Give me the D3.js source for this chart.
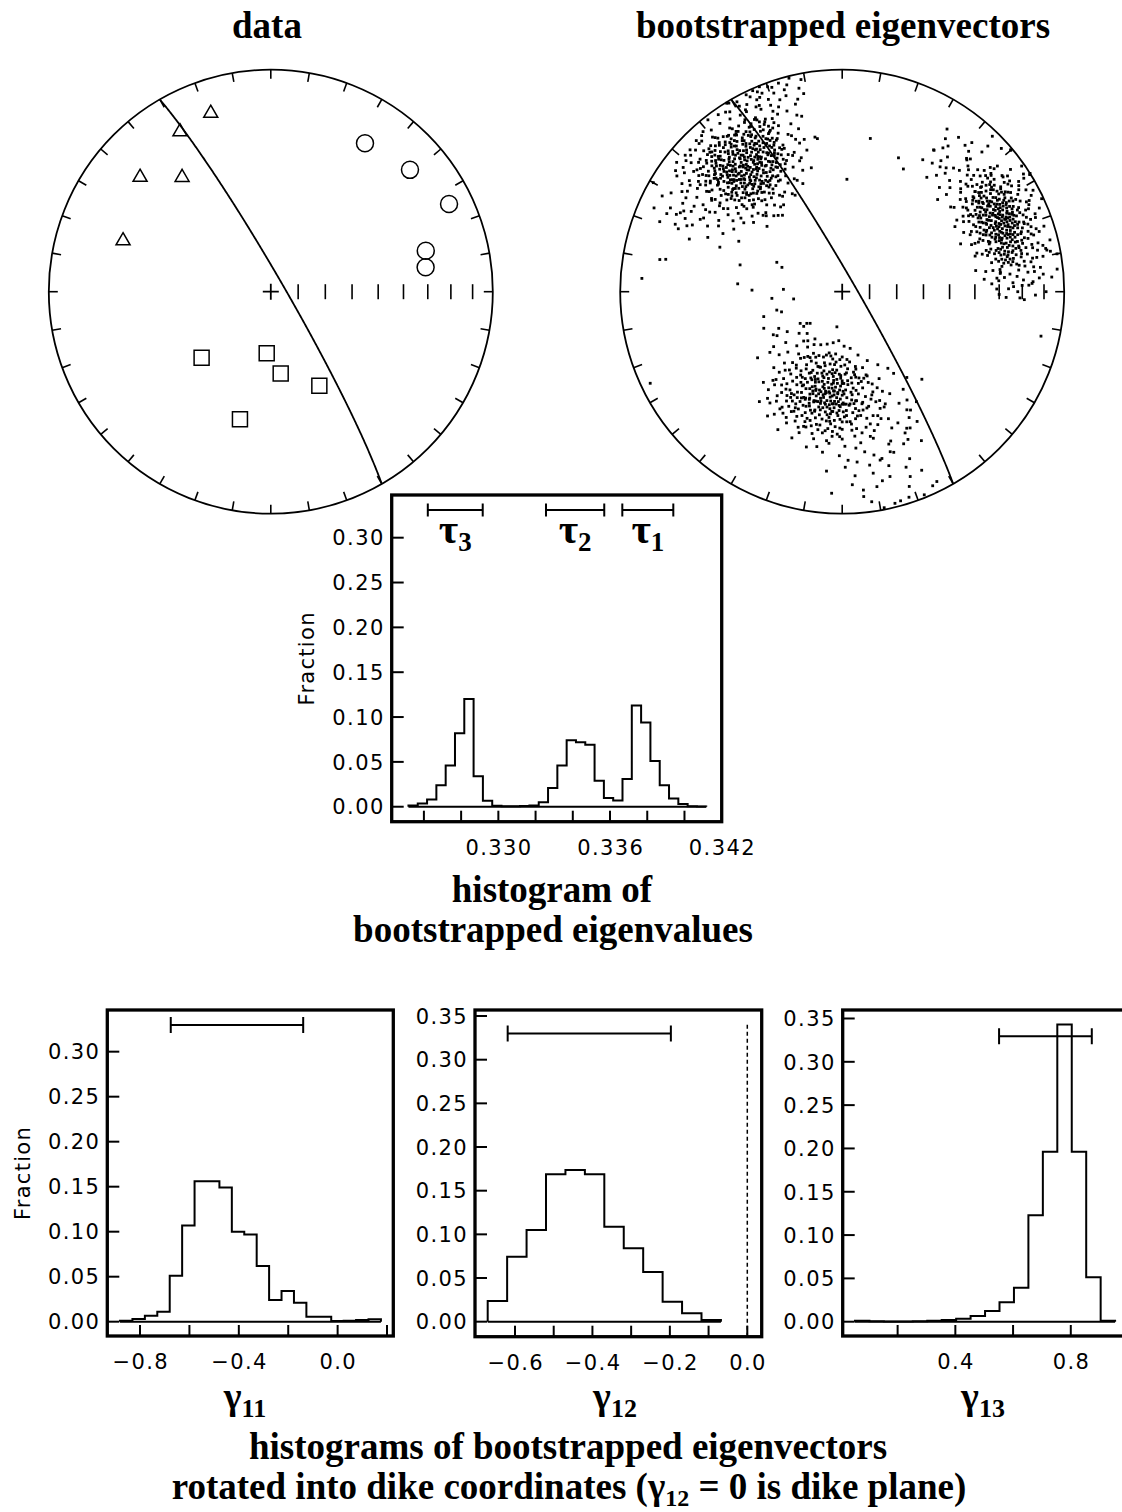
<!DOCTYPE html>
<html>
<head>
<meta charset="utf-8">
<title>Bootstrapped eigenvectors and eigenvalues</title>
<script src="https://cdn.jsdelivr.net/npm/d3@7/dist/d3.min.js"></script>
<style>
  html, body { margin: 0; padding: 0; background: #fff; }
  svg { display: block; }
  .title { font-family: "Liberation Serif", "Times New Roman", serif; font-weight: bold; fill: #000; }
  .tick-label { font-family: "DejaVu Sans", sans-serif; font-size: 21px; letter-spacing: 1.4px; fill: #000; }
</style>
</head>
<body>
<svg id="fig" width="1122" height="1512" viewBox="0 0 1122 1512"></svg>
<script>
// ---------------- data: measured directions (trend, plunge in degrees) ----------------
const dataTriangles = [[341.4,16.3],[330.4,18.3],[311.2,22.8],[322.2,35.1],[289.0,30.3]];
const dataCircles   = [[32.4,21.9],[48.8,17.8],[63.8,11.5],[75.2,28.6],[81.0,30.1]];
const dataSquares   = [[226.3,54.5],[183.8,67.3],[173.1,59.6],[152.7,50.6],[193.6,40.6]];

// dike plane, given by its pole (trend, plunge)
const dikePole = [240, 5];

// plunge graduations along the east radius
const plungeTicks = [80,70,60,50,40,30,20,10];

// bootstrapped eigenvector directions (trend, plunge)
const bootNW = [
[320,26],[321.5,29],[322,27],[323,30],[324,28],[320,30],[322.5,25.5],[323.5,27],[321,28],[324,26],[322,30],[320.5,28],[323,29],
[325,27],[326,29.5],[327,26],[328,28],[329,30],[325.5,30],[327,28.5],[328.5,26],[326,27],[329,27.5],[327.5,30],
[315,28],[316,26],[317,29],[318,27],[319,30],[315.5,30],[317,26.5],[318.5,28.5],[316,28],[319,26],[317.5,30],
[320,32],[321,34],[322,31],[323,33],[324,35],[320.5,35],[322,33.5],[323.5,31],[321,32],[324,32.5],[322.5,35],
[320,22],[321,24],[322,21],[323,23],[324,25],[320,24.5],[322,23],[323.5,21.5],[321.5,22],[324,22.5],[322.5,25],
[325.5,31],[328,32],[326,33.5],[329,34],[327,35],[325,33],[328.5,30.5],[326.5,31.5],[327.5,33],
[326,21],[329,22],[325,23.5],[327.5,24],[328,25],[326.5,22.5],[325.5,25],[329,24],[327,21.5],
[316,30.5],[319,31.5],[315,33],[317.5,32],[318,34.5],[316.5,35],[319,33.5],[315.5,31],[317,33.5],
[315,21],[318,21.5],[316.5,23],[319,23.5],[317,24.5],[315.5,25],[318.5,25],[316,22],[317.5,20.5],
[330,27],[331.5,29.5],[333,26],[334,28.5],[332,30],[330.5,25.5],[333.5,27.5],
[310,29],[311.5,26.5],[313,28],[314,30],[312,25.5],[310.5,27],[313.5,29.5],
[320,37],[321.5,39.5],[323,36],[324,38.5],[322,40],[320.5,35.5],[323.5,37.5],
[320,19],[321.5,16.5],[323,18],[324,20],[322,15.5],[320.5,17],[323.5,19.5],
[330,31.5],[332,34],[333.5,32],[331,35],[334,33.5],[330.5,33],
[331,21],[333,22.5],[330,24],[334,24.5],[332,25],[330.5,21.5],
[310,32],[312.5,31],[314,33.5],[311,34.5],[313,35],[310.5,30.5],
[311,21.5],[313.5,22],[310,23.5],[312,24.5],[314,25],[310.5,20.5],
[325,36.5],[327,38],[329,37],[326,40],[328,39.5],[325.5,39],
[326,16],[328,17.5],[325,18.5],[329,19],[327,20],[325.5,15.5],
[315,37],[317.5,36],[319,38.5],[316,39.5],[318,40],[315.5,38.5],
[316,16.5],[318,15.5],[315,18],[319,17.5],[317,19.5],[315.5,20],
[330.5,37],[333,39],[331,40],[334,36.5],[331,16],[333.5,18],[330,19.5],[334,20],
[310.5,36.5],[313,38],[311,40],[314,39],[311,16.5],[313.5,17],[310,19],[314,19.5],
[335.5,27],[338,29.5],[336.5,30],[305.5,28.5],[308,26.5],[306,30],[321,42],[323.5,44],[320,45],
[321,12],[323.5,14],[320.5,11],[335,32],[338.5,34],[336,35],[336,21.5],[338,24],[335.5,25],
[306,32.5],[308.5,34],[305,35],[305.5,21],[308,23],[306.5,25],[326,41.5],[328,43],[325,45],
[325.5,11.5],[328,13],[326.5,14.5],[316,42],[318.5,44.5],[315,43.5],[315.5,12],[318,12.5],[316.5,14.5],
[336,37],[338.5,39.5],[335.5,17],[338,19],[306,36.5],[308.5,39],[305,17.5],[307.5,19.5],
[331,42],[333.5,44.5],[330.5,12],[333,14],[311,42.5],[313.5,44],[310.5,11.5],[313,13.5],
[338,45],[336,11],[306,43],[307,12],[342,27],[301,29],[322,49],[321,7],
[341,34],[343,22],[302,33],[300,24],[328,48],[327,8],[316,49],[318,6],
[342,38],[301,19],[332,8],[313,47],
[329,1],[334.7,3.3],[340,2],[346,1],[342,10],[333.6,14.7],[345.6,19],[346,34.6],[337,36],[324,51],
[311,53],[303,23],[295,18.7],[290,41],[316,8],[328.5,0.5],[336,6],[338,4],[331,5],[344,6],
[341,13],[335,9],[347,12],[343,16],[339,11],[332,9],[298,30],[293,25],[297,21],[300,36],
[296,33],[291,22],[305,45],[308,48],[315,50],[320,53],[327,47],[333,49],[336,1],[338,0.5],
[341,3],[343,2],[337,2.5],[345,4],[294,14.6],[300,2],[296,20],[310,15.7],[317,13],[305,10],
[302,16],[308,6],[298,9],[312,9],
[309,18],[311,27],[313,33],[314,16],[316,38],[318,24],[319,41],[310,35],[312,20],[315,29.5],
[317,17],[318.5,36],[320,15],[321.5,40.5],[323,17],[324.5,41],[326,15.5],[327.5,36.5],[329,17],[330,40],
[331.5,18],[332.5,37],[334,16],[335,39],[336,19.5],[308.5,31],[309.5,24],[311.5,38],[313,23],[314.5,41],
[316,19],[317.5,27.5],[319,33],[320.5,20.5],[322,36.5],[323.5,24.5],[325,34],[326.5,19.5],[328,29],[329.5,23.5],
[331,33.5],[332.5,26.5],[334,31],[335.5,22],[333,20],[330.5,16],[327,18.5],[324,16],[321,19.5],[318,19],
[312.5,36],[315,34.5],[317,39.5],[320,38],[324,39.5],[327,40],[330,36],[333,35],[335,28],[336,33],
[309,22],[310.5,33],[312,17],[314,26],[316.5,31.5],[319.5,22.5],[322.5,31.5],[325.5,28.5],[328.5,34],[331.5,30.5],
[334.5,25.5],[336,16],[333.5,13.5],[330,13],[326,12.5],[322.5,13],[319,14],[315.5,14.5],[312,14],[309,15],
[311,41],[314,43],[318,43],[322,42.5],[326,43.5],[330,42],[334,41.5],[337,31],[337,26],[307,26],
[292,20],[294,27],[296,15],[298,24],[300,12],[301,31],[303,18],[304,38],[306,8],[307,21],
[299,19],[297,29],[295,23],[302,27],[304,14],[305,33],[303,41],[300,43],[298,37],[296,40],
[310,9],[313,7],[316,6],[319,5],[322,2],[325,3],[328,5],[331,2.5],[334,1.5],[337,5.5],
[339,8],[341,6],[344,9],[346,14],[348,7],[349,3],[347,20],[345,25],[343,29],[340,16],
[339,21],[341,26],[344,31],[342,42],[340,47],[337,44],[334,50],[330,47],[326,51],[322,54],
[318,52],[314,49],[310,46],[307,41],[305,29],[306,16],[308,10],[311,7],[314,9],[317,8],
[320,10],[324,7],[327,4],[330,9],[333,6],[336,9],[339,14],[338,17],[340,35],[343,37],
[349,10],[350,30],[346,42],[296,47],[292,35],[289,28],[291,13],[294,8],[319,47],[323,46],
[313,26],[314.5,31],[312.5,23],[316,24],[318,32.5],[319.5,36],[321,37.5],[322.5,19],[324.5,17.5],[326,24],
[327.5,31.5],[329,26],[330.5,28.5],[331,23.5],[332.5,31.5],[329.5,20],[328,22.5],[326.5,36],[323,39],[319,27.5],
[317.5,18.5],[315,23],[313.5,33],[316.5,36.5],[320,40.5],[325,42],[329,39],[332,36.5],[334.5,30],[335,22.5],
[333.5,24],[331.5,27],[328.5,29.5],[325.5,32.5],[322,28.5],[318.5,30],[315.5,27],[314,21],[311.5,24],[312,33.5],
[330,18],[327,15],[324,14],[335,18],[337,21],[336.5,26.5],[338,31],[320.5,14],[317,15],[331.5,15]
];

const bootE = [
[63,20],[64.5,21],[66,20.5],[67,22],[63.5,22.5],[65,23],[66.5,24],[64,24],[63,21.5],[65.5,20],[67,20.5],[64,22],[66,22.5],[65,21.5],[63.5,24],[67,23.5],[64.5,23.5],[66,21],
[68,20.5],[69.5,22],[71,21],[72,23],[68.5,23.5],[70,24],[71.5,20],[69,20],[70.5,22.5],[72,21.5],[68,22],[69.5,24.5],[71,23.5],[70,20.5],[68.5,21],
[58,21],[59.5,20],[61,22],[62,20.5],[58.5,23],[60,24],[61.5,23.5],[59,22.5],[60.5,21],[62,23],[58,24],[59.5,24.5],[61,20],[60,22],[62,21.5],
[63,25],[64.5,26.5],[66,25.5],[67,27],[63.5,28],[65,29],[66.5,28.5],[64,27.5],[65.5,25],[63,26.5],[66,27.5],[67,25.5],[64.5,29],
[63.5,15],[65,16.5],[66.5,15.5],[67,17.5],[63,18],[64.5,19],[66,18.5],[65.5,17],[64,16],[67,19],[63,16.5],[65,18],[66,16.5],
[68,25.5],[69.5,27],[71,26],[72,28],[68.5,28.5],[70,29],[71.5,25],[70.5,27.5],[69,25],[72,26.5],[68,27],
[68.5,15.5],[70,17],[71.5,16],[72,18],[68,18.5],[69.5,19],[71,19],[70.5,15],[69,16.5],[72,16.5],[68,17],
[58,26],[59.5,25],[61,27],[62,25.5],[58.5,28],[60,29],[61.5,28.5],[60.5,26],[59,27.5],[62,27.5],[58,29],
[58.5,15],[60,16.5],[61.5,15.5],[62,17.5],[58,18],[59.5,19],[61,18.5],[60.5,17.5],[59,16],[62,19],[58,16.5],
[73,21],[74.5,23],[76,20.5],[77,22.5],[73.5,24],[75,21.5],[76.5,24],[74,20],
[53.5,20.5],[55,22],[56.5,21],[57,23.5],[53,23],[54.5,24],[56,24],[55.5,20],
[63.5,30.5],[65,32],[66.5,31],[64,33.5],[66,34],[63,11],[64.5,13],[66,10.5],[67,12.5],[65,14],
[73,26],[74.5,28],[76,25.5],[77,27.5],[75,29],[73.5,25],[73.5,15.5],[75,17],[76.5,16],[77,18.5],[74,19],[76,19],
[53,26],[54.5,28],[56,25.5],[57,27.5],[55,29],[56.5,27],[53.5,16],[55,17.5],[56.5,15.5],[57,18],[54,19],[56,19],
[68.5,31],[70,33],[71.5,30.5],[69,34],[68,11.5],[69.5,13.5],[71,11],[72,13],
[58.5,30.5],[60,32.5],[61.5,31],[59,34],[58,11],[59.5,13],[61,10.5],[62,12.5],
[74,31],[76,33],[73.5,11],[76,13],[54,31.5],[56,33],[54.5,12],[56.5,10.5],
[78,21],[80,23],[81.5,20.5],[48.5,22],[50,20],[51.5,23.5],[65,36],[64,7],
[79,26],[81,28],[78.5,16],[80.5,18],[49,27],[51,25.5],[49.5,17],[51.5,15.5],
[70,36.5],[69,7.5],[60,37],[61,6],[79,32],[80,12],[50,31],[51,11],[85,22],[45,21],
[33,25],[37,27],[41,30],[43,19],[35,22],[87,15],[86,30],[88,20],[78,7],[79,5],
[50,1],[58,0.5],[53,37],[52,33],[74,37],[83,29],[84,14],[45,12],[47,28],[57,3],
[32.8,25],[38.1,29.3],[43.4,19.4],[86.3,19.3],[88.3,23.8],[85,30.7],[87.5,15.5],[91,30],[92,21],[92.5,19],
[78.5,6.6],[82.6,14.1],[83.4,29.1],[49.9,0.8],[57.8,0],[40,15],[44,25],[46,33],[85,10],[82,35],
[50,14],[52,21],[54,28],[55,10],[57,33],[59,8],[61,35],[63,5],[66,37],[68,7],
[70,35],[72,9],[74,33],[76,10],[78,30],[80,14],[81,24],[79,19],[77,8],[75,35],
[49,24],[51,18],[53,31],[56,13],[58,36],[60,9],[62,30],[64,8.5],[67,33],[69,10],
[71,31],[73,8],[75,27],[77,13],[79,24],[82,18],[80,27],[78,11],[76,30],[74,14],
[52,16],[54,12],[56,30],[58,7],[60,31],[63,34],[66,9],[68,32],[70,12],[72,31],
[74,17],[76,28],[78,25],[80,9],[82,29],[81,15],[79,29],[53,26],[55,34],[57,12],
[59,33],[61,14],[63,31.5],[65,8],[67,30],[69,13.5],[71,28],[73,12],[75,32],[77,26],
[50,27],[51,13],[48,19],[47,24],[49,30],[83,21],[84,25],[84,17],[83,11],[82,32],
[62,3],[67,4],[72,5],[58,4],[76,4],[54,7],[70,38],[64,39],[58,39],[75,38],
[36,20],[38,24],[40,28],[42,16],[44,31],[46,22],[39,33],[41,12],[45,8],[47,36],
[86,12],[88,17],[89,26],[87,33],[90,22],[85,36],[91,14],[86,6],[84,3],[80,2],
[65,1],[55,1.5],[48,4],[44,3],[60,41],[68,42],[52,38],[46,40],[81,39],[90,9],
[35,30],[34,18],[37,14],[43,36],[89,31],[92,27],[85,27.5],[87,24],[44,18],[42,26],
[52,18],[53,22.5],[54,25],[55,19],[56,28],[57,16],[58.5,20],[59,24],[60,27],[61.5,17],
[62.5,24.5],[64,18.5],[66,19.5],[67.5,24.5],[69,18],[70,26],[71,22],[72.5,19.5],[73.5,22],[74.5,26],
[75.5,19],[76.5,22],[77.5,24.5],[78,18.5],[79,22.5],[80,25],[81,21.5],[78.5,27.5],[55,25.5],[53.5,18],
[57.5,26],[59,14],[62,14],[66,13.5],[69,29.5],[72,25.5],[75,24],[61,30],[64,30],[67.5,30.5]
];

const bootS = [
[185,48],[186.5,50.5],[188,49],[189.5,51.5],[191,48.5],[185.5,51],[187,52],[188.5,47.5],[190,50],[186,49],[189,52],[190.5,51],
[191.5,49.5],[193,51],[194.5,48],[196,50.5],[197,48.5],[192,52],[193.5,48],[195,52],[196.5,51.5],[194,50],
[179.5,48.5],[181,50],[182.5,52],[184,49],[184.5,51.5],[180,51.5],[181.5,47.5],[183,50.5],[184.5,48],[182,49],
[197.5,50],[199,48],[200.5,51.5],[202,49.5],[203,52],[198.5,52],[201,47.5],
[173,49],[174.5,51.5],[176,48],[177.5,50.5],[179,52],[175,49.5],[178,48],
[204,49],[206,51.5],[208,48.5],[205,47.5],[167.5,50],[169.5,48],[171,51.5],[172.5,49],
[211,50],[213,48.5],[163,51],[165,48.5],[217,49],[158,50],
[185,53],[186.5,55.5],[188,54],[189.5,52.5],[191,55],[185.5,56],[187.5,52.5],[189,56],[190.5,53.5],[186,54],
[191.5,54],[193,52.5],[194.5,55.5],[196,53.5],[197,56],[192.5,56],[195,52.5],[196.5,55],
[179.5,53],[181,55],[182.5,52.5],[184,54.5],[180,56],[183,56],[184.5,53],[181.5,53.5],
[197.5,53],[199,55.5],[201,54],[202.5,52.5],[200,56],[203,55],
[173.5,54],[175,52.5],[176.5,55.5],[178,53.5],[179,56],[174,56],
[204.5,53],[206.5,55.5],[208,54],[168,53.5],[170,55.5],[172,53],[212,54],[164,55],
[185,45],[186.5,47.5],[188,44.5],[189.5,46],[191,47.5],[185.5,44],[187.5,46.5],[189,48],[190.5,45],[186,46],
[191.5,46],[193,44.5],[194.5,47.5],[196,45.5],[197,48],[192.5,48],[195,44],[196.5,46.5],
[179.5,45],[181,47],[182.5,44.5],[184,46.5],[180,48],[183,48],[184.5,45],[181.5,45.5],
[197.5,45],[199,47.5],[201,46],[202.5,44.5],[200,48],[203,47],
[173.5,46],[175,44.5],[176.5,47.5],[178,45.5],[179,48],[174,48],
[204.5,45],[206.5,47.5],[208,46],[168,45.5],[170,47.5],[172,45],[211,46],[163,47],
[185.5,57],[187,59.5],[189,57.5],[190.5,59],[186,58.5],[192,57.5],[194,59],[195.5,56.5],[197,58.5],[193,60],
[180,57],[182,59.5],[183.5,57.5],[185,60],[181,58],[198,57],[200.5,59],[202,57.5],[174,58],[176.5,57],[178,59.5],
[205,58.5],[207.5,57],[169,57.5],[171.5,59],[212,58],[163.5,57.5],
[185.5,41],[187,43.5],[189,41.5],[190.5,43],[186,42.5],[192,41.5],[194,43],[195.5,40.5],[197,42.5],[193,44],
[180,41],[182,43.5],[183.5,41.5],[185,40],[181,42],[198,41],[200.5,43],[202,41.5],[174,42],[176.5,41],[178,43.5],
[205,42.5],[207.5,41],[169,41.5],[171.5,43],[211,42],[164,41.5],
[187,61],[189.5,63],[193,62],[196,61],[181,62.5],[184,61],[200,62],[176,61.5],[206,63],[170,62],
[187,37],[189.5,39],[193,38],[196,37],[181,38.5],[184,37],[200,38],[176,37.5],[206,39],[170,38],
[188,65],[194,66],[186,33],[180,34],
[252.4,59.6],[254.3,65],[251.6,66.5],[233,70.7],[228,71],[225.4,73.5],[188.6,77],[231.3,57.5],[228.2,72.6],[205,65],
[215,62],[222,60],[240,63],[218,67],[210,70],[245,58],[236,61],[220,64],[212,66],
[151.3,39.2],[153.5,32],[163.3,25.7],[170.3,18.2],[169.9,11.8],[165.5,15.1],[159.8,12.3],[153.5,5],[164.4,2.5],[183,10],
[166.6,23.8],[173.9,11.1],[162.2,25],[154.7,32.5],[150,38.4],[149.1,42.6],[147.8,54.2],[149.2,57],[189.3,30],[181,35],
[167.3,23.3],[158,20],[172,28],[175,30],[160,35],[178,25],[156,28],[168,33],[165,38],[160,44],
[166,2],[162,3],[158,1.5],[169,1],[155,4],[172,5],[176,18],[179,22],[162,30],[157,36],
[162,44],[164,50],[166,57],[168,39],[170,61],[172,36],[174,64],[176,40],[178,63],[180,38],
[182,65],[184,35],[186,63],[188,36],[190,66],[192,35],[194,63],[196,39],[198,61],[200,40],
[202,64],[204,38],[206,60],[208,40],[210,62],[212,44],[214,55],[216,47],[218,52],[160,52],
[163,40],[165,61],[167,46],[169,34],[171,58],[173,43],[175,35],[177,60],[179,43],[181,59],
[183,39],[185,64],[187,41],[189,60],[191,39],[193,58],[195,37],[197,61],[199,45],[201,58],
[203,41],[205,55],[207,44],[209,52],[211,57],[213,40],[215,58],[217,44],[219,56],[161,47],
[166,42],[170,45],[174,38],[178,41],[182,36],[186,38],[190,37],[194,40],[198,36],[202,43],
[206,46],[210,48],[214,51],[218,48],[216,54],[212,61],[208,63],[204,62],[200,65],[196,65],
[192,67],[186,67],[180,66],[176,65],[172,60],[168,56],[164,58],[162,54],[159,45],[160,39],
[167,36],[173,32],[179,31],[185,32],[191,33],[197,34],[203,36],[209,37],[215,41],[221,45],
[222,52],[225,57],[228,62],[230,55],[234,65],[238,60],[226,68],[232,50],[220,70],[215,68],
[155,48],[153,43],[152,36],[156,31],[158,27],[163,29],[169,26],[175,24],[181,27],[187,28],
[193,29],[199,31],[205,32],[211,35],[217,38],[157,55],[154,60],[160,63],[166,66],[172,69],
[178,70],[184,72],[190,71],[196,70],[202,69],[208,68],[148,47],[150,33],[165,20],[171,22],
[160,17],[168,14],[174,8],[161,8],[156,13],[177,14],[185,20],[152,25],[146,40],[143,50]
];

const bootStray = [
[284.7,50.7],[294.2,63.6],[292,66.1],[274.3,51],[271,56.6],[264.6,64],[261.5,72],[272.3,68.4],
[2.4,48],[10.4,30.5],[350.8,30.8],[346,30],[22.8,34.9],[26.5,38.2],[31.4,31],[36.5,36.1],
[32.8,13.9],[102.6,9.1],[137.7,45.7],[280,17.7],[280.4,20.3],[273.8,10.5],[244.5,4.7]
];

// ---------------- data: histograms (fraction per bin) ----------------
const yTickValues = [0, 0.05, 0.10, 0.15, 0.20, 0.25, 0.30, 0.35];

const eigBinStart = 0.32517, eigBinWidth = 0.0005;
const eigFractions = [0.0015,0.0037,0.008,0.024,0.046,0.082,0.120,0.034,0.0067,0.001,0.0005,0.0005,0.0008,0.0015,0.005,0.021,
                      0.046,0.074,0.072,0.069,0.029,0.0097,0.007,0.031,0.113,0.094,0.051,0.024,0.0093,0.003,0.0005,0.0003];
const eigXTicks  = [0.326,0.328,0.330,0.332,0.334,0.336,0.338,0.340];
const eigXLabels = [0.330,0.336,0.342];
const eigRanges  = [[0.32621,0.32916],[0.33256,0.33569],[0.33666,0.33940]];
const eigRangeNames = ['3','2','1'];
const eigRangeLevel = 0.331;

const g11BinStart = -0.881, g11BinWidth = 0.0503;
const g11Fractions = [0.0011,0.003,0.0067,0.011,0.051,0.107,0.156,0.156,0.149,0.100,0.097,0.062,0.024,0.034,0.021,0.0056,0.0056,0.0009,0.0011,0.0019,0.0026];
const g11XTicks = [-0.8,-0.6,-0.4,-0.2,0,0.2];
const g11XLabels = [-0.8,-0.4,0];
const g11Range = [-0.6756,-0.1394], g11RangeLevel = 0.3297;

const g12BinStart = -0.6705, g12BinWidth = 0.0502;
const g12Fractions = [0.0237,0.0744,0.105,0.1687,0.1737,0.1687,0.1088,0.084,0.0569,0.0229,0.0096,0.0019];
const g12XTicks = [-0.6,-0.5,-0.4,-0.3,-0.2,-0.1,0];
const g12XLabels = [-0.6,-0.4,-0.2,0];
const g12Range = [-0.6189,-0.1974], g12RangeLevel = 0.330;
const dikePlaneValue = 0;

const g13BinStart = 0.0523, g13BinWidth = 0.05007;
const g13Fractions = [0.0012,0.0004,0.0002,0.0002,0.0004,0.0012,0.0019,0.0035,0.0065,0.0123,0.0224,0.0392,0.123,0.1961,0.343,0.1961,0.0512,0.0012];
const g13XTicks = [0.2,0.4,0.6,0.8];
const g13XLabels = [0.4,0.8];
const g13Range = [0.5515,0.8728], g13RangeLevel = 0.3296;

// ---------------- drawing ----------------
const INK = '#000';
const svg = d3.select('#fig');

// Lower-hemisphere equal-area (Schmidt) net
function drawStereonet(cx, cy, R) {
  const g = svg.append('g');
  const proj = d3.geoAzimuthalEqualArea()
    .rotate([0, -90])
    .clipAngle(90)
    .precision(0.05)
    .scale(R / Math.SQRT2)
    .translate([cx, cy]);
  // trend measured clockwise from north, plunge downward
  const at = (trend, plunge) => proj([180 - trend, plunge]);

  g.append('circle').attr('cx', cx).attr('cy', cy).attr('r', R)
    .attr('fill', 'none').attr('stroke', INK).attr('stroke-width', 1.8);

  const rimTick = 9;
  g.selectAll(null).data(d3.range(0, 360, 10)).join('line')
    .each(function (az) {
      const [x, y] = at(az, 0);
      const ux = (cx - x) / R, uy = (cy - y) / R;
      d3.select(this).attr('x1', x).attr('y1', y)
        .attr('x2', x + ux * rimTick).attr('y2', y + uy * rimTick);
    })
    .attr('stroke', INK).attr('stroke-width', 1.6);

  g.selectAll(null).data(plungeTicks).join('line')
    .each(function (p) {
      const [x, y] = at(90, p);
      d3.select(this).attr('x1', x).attr('x2', x).attr('y1', y - 7.5).attr('y2', y + 7.5);
    })
    .attr('stroke', INK).attr('stroke-width', 1.6);

  const [ox, oy] = at(0, 90);
  g.append('path').attr('d', `M${ox - 8},${oy}H${ox + 8}M${ox},${oy - 8}V${oy + 8}`)
    .attr('stroke', INK).attr('stroke-width', 1.8);

  // dike plane as a great circle around its pole
  const ring = d3.geoCircle().center([180 - dikePole[0], dikePole[1]]).radius(90).precision(0.5)().coordinates[0];
  g.append('path')
    .attr('d', d3.geoPath(proj)({ type: 'LineString', coordinates: ring }))
    .attr('fill', 'none').attr('stroke', INK).attr('stroke-width', 1.8);

  return { g, at };
}

// left net: measured data
const netData = drawStereonet(270.8, 291.7, 222);
[[dataTriangles, d3.symbolTriangle, 85], [dataCircles, d3.symbolCircle, 227], [dataSquares, d3.symbolSquare, 225]]
  .forEach(([pts, type, size]) => {
    netData.g.selectAll(null).data(pts).join('path')
      .attr('d', d3.symbol().type(type).size(size))
      .attr('transform', d => { const [x, y] = netData.at(d[0], d[1]); return `translate(${x},${y})`; })
      .attr('fill', 'none').attr('stroke', INK).attr('stroke-width', 1.5);
  });

// right net: bootstrapped eigenvectors
const netBoot = drawStereonet(842.2, 291.7, 222);
const dot = 2.8;
netBoot.g.selectAll(null).data([...bootNW, ...bootE, ...bootS, ...bootStray]).join('rect')
  .attr('x', d => netBoot.at(d[0], d[1])[0] - dot / 2)
  .attr('y', d => netBoot.at(d[0], d[1])[1] - dot / 2)
  .attr('width', dot).attr('height', dot).attr('fill', INK);

// step-outline histogram panel
function histPanel(p) {
  const x = d3.scaleLinear().domain(p.xDomain).range([p.left, p.right]);
  const y = d3.scaleLinear().domain(p.yDomain).range([p.bottom, p.top]);
  const g = svg.append('g');

  const yt = yTickValues.filter(v => v <= p.yDomain[1]);
  g.selectAll(null).data(yt).join('line')
    .attr('x1', p.left).attr('x2', p.left + 12)
    .attr('y1', d => y(d)).attr('y2', d => y(d))
    .attr('stroke', INK).attr('stroke-width', 2);
  g.selectAll(null).data(yt).join('text')
    .attr('class', 'tick-label')
    .attr('x', p.left - 7).attr('y', d => y(d)).attr('dy', '0.37em')
    .attr('text-anchor', 'end').text(d3.format('.2f'));

  g.selectAll(null).data(p.xTicks).join('line')
    .attr('x1', d => x(d)).attr('x2', d => x(d))
    .attr('y1', p.bottom).attr('y2', p.bottom - 11)
    .attr('stroke', INK).attr('stroke-width', 2);
  g.selectAll(null).data(p.xLabels).join('text')
    .attr('class', 'tick-label')
    .attr('x', d => x(d) + 0.7).attr('y', p.bottom + 33)
    .attr('text-anchor', 'middle').text(p.format);

  if (p.yTitle) {
    const cy = (p.top + p.bottom) / 2, cx = p.left - 85;
    g.append('text').attr('class', 'tick-label')
      .attr('transform', `translate(${cx},${cy}) rotate(-90)`)
      .attr('text-anchor', 'middle').attr('dy', '0.36em')
      .style('letter-spacing', '1.3px')
      .text('Fraction');
  }

  const n = p.values.length;
  const edges = d3.range(n + 1).map(i => p.start + i * p.width);
  const pts = [[edges[0], 0], ...p.values.map((v, i) => [edges[i], v]), [edges[n], 0]];
  g.append('line')
    .attr('x1', x(edges[0])).attr('x2', x(edges[n]))
    .attr('y1', y(0)).attr('y2', y(0))
    .attr('stroke', INK).attr('stroke-width', 2);
  g.append('path')
    .attr('d', d3.line().x(d => x(d[0])).y(d => y(d[1])).curve(d3.curveStepAfter)(pts))
    .attr('fill', 'none').attr('stroke', INK).attr('stroke-width', 2);

  p.ranges.forEach(([lo, hi]) => {
    const yy = y(p.rangeLevel);
    g.append('path')
      .attr('d', `M${x(lo)},${yy}H${x(hi)}M${x(lo)},${yy - p.cap}V${yy + p.cap}M${x(hi)},${yy - p.cap}V${yy + p.cap}`)
      .attr('fill', 'none').attr('stroke', INK).attr('stroke-width', 2);
  });

  g.append('rect')
    .attr('x', p.left).attr('y', p.top)
    .attr('width', p.right - p.left).attr('height', p.bottom - p.top)
    .attr('fill', 'none').attr('stroke', INK).attr('stroke-width', 3.3);

  return { g, x, y };
}

// eigenvalue histogram
const eig = histPanel({
  left: 391.7, right: 721.7, top: 495, bottom: 821.7,
  xDomain: [0.32427, 0.342], yDomain: [-0.0167, 0.3476],
  start: eigBinStart, width: eigBinWidth, values: eigFractions,
  xTicks: eigXTicks, xLabels: eigXLabels, format: d3.format('.3f'),
  ranges: eigRanges, rangeLevel: eigRangeLevel, cap: 6.5, yTitle: true
});
eigRanges.forEach(([lo, hi], i) => {
  const t = eig.g.append('text').attr('class', 'title')
    .attr('x', eig.x((lo + hi) / 2)).attr('y', eig.y(eigRangeLevel) + 33)
    .attr('text-anchor', 'middle').style('font-size', '42px');
  t.append('tspan').text('τ');
  t.append('tspan').attr('dy', 8).style('font-size', '27px').text(eigRangeNames[i]);
});

// eigenvector component histograms
const h11 = histPanel({
  left: 107.3, right: 393.3, top: 1010, bottom: 1336,
  xDomain: [-0.9325, 0.2254], yDomain: [-0.0159, 0.3463],
  start: g11BinStart, width: g11BinWidth, values: g11Fractions,
  xTicks: g11XTicks, xLabels: g11XLabels, format: d3.format('.1f'),
  ranges: [g11Range], rangeLevel: g11RangeLevel, cap: 8, yTitle: true
});
const h12 = histPanel({
  left: 475, right: 761.7, top: 1010, bottom: 1336.7,
  xDomain: [-0.7033, 0.0372], yDomain: [-0.0172, 0.3569],
  start: g12BinStart, width: g12BinWidth, values: g12Fractions,
  xTicks: g12XTicks, xLabels: g12XLabels, format: d3.format('.1f'),
  ranges: [g12Range], rangeLevel: g12RangeLevel, cap: 8, yTitle: false
});
h12.g.append('line')
  .attr('x1', h12.x(dikePlaneValue)).attr('x2', h12.x(dikePlaneValue))
  .attr('y1', h12.y(0.34)).attr('y2', 1335)
  .attr('stroke', INK).attr('stroke-width', 1.5).attr('stroke-dasharray', '4,3');
const h13 = histPanel({
  left: 842.7, right: 1129, top: 1010, bottom: 1336,
  xDomain: [0.0097, 1.0017], yDomain: [-0.0165, 0.3598],
  start: g13BinStart, width: g13BinWidth, values: g13Fractions,
  xTicks: g13XTicks, xLabels: g13XLabels, format: d3.format('.1f'),
  ranges: [g13Range], rangeLevel: g13RangeLevel, cap: 8, yTitle: false
});

[[h11, '11', 245], [h12, '12', 615], [h13, '13', 983]].forEach(([h, sub, cx]) => {
  const t = svg.append('text').attr('class', 'title')
    .attr('x', cx).attr('y', 1409).attr('text-anchor', 'middle').style('font-size', '38px');
  t.append('tspan').text('γ');
  t.append('tspan').attr('dy', 8).style('font-size', '26px').text(sub);
});

// titles
function title(txt, x, y) {
  return svg.append('text').attr('class', 'title').attr('x', x).attr('y', y)
    .attr('text-anchor', 'middle').style('font-size', '37px').text(txt);
}
title('data', 267, 38);
title('bootstrapped eigenvectors', 843, 38);
title('histogram of', 552, 902);
title('bootstrapped eigenvalues', 553, 942);
title('histograms of bootstrapped eigenvectors', 568, 1459);
const last = svg.append('text').attr('class', 'title').attr('x', 569).attr('y', 1499)
  .attr('text-anchor', 'middle').style('font-size', '37px');
last.append('tspan').text('rotated into dike coordinates (γ');
last.append('tspan').attr('dy', 7).style('font-size', '24px').text('12');
last.append('tspan').attr('dy', -7).text(' = 0 is dike plane)');
</script>
</body>
</html>
